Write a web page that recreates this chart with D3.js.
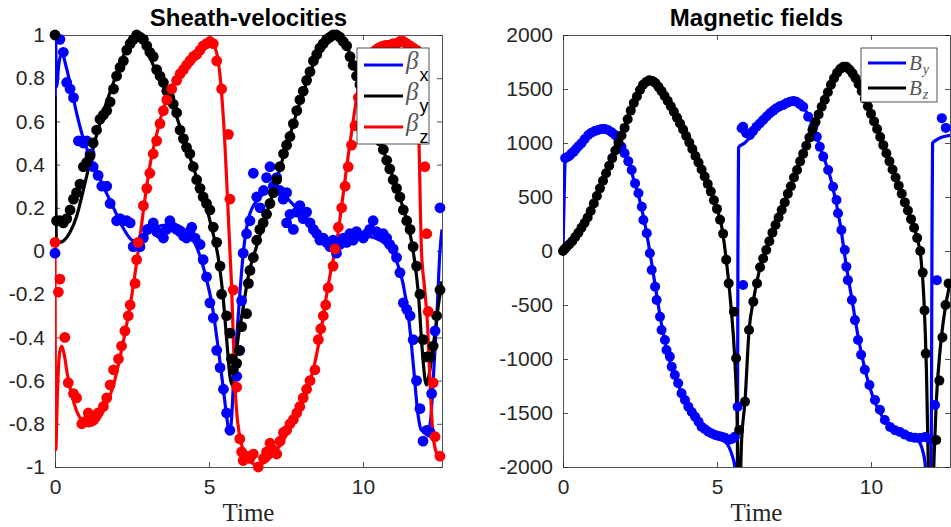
<!DOCTYPE html>
<html><head><meta charset="utf-8">
<script src="https://cdn.jsdelivr.net/npm/d3@7/dist/d3.min.js"></script>
<style>body{margin:0;background:#fff}svg{display:block}</style>
</head><body>
<svg id="chart" width="951" height="527"></svg>
<script>
// ---------------- data ----------------
const tMax = 12.566;
const timeTicks = [0, 5, 10];
const velTicks = [-1, -0.8, -0.6, -0.4, -0.2, 0, 0.2, 0.4, 0.6, 0.8, 1];
const fieldTicks = [-2000, -1500, -1000, -500, 0, 500, 1000, 1500, 2000];

// Sheath velocities: fitted curves [time, value]
const betaXLine = [[0,0],[0.015,1.0],[0.05,0.76],[0.12,0.86],[0.22,0.92],[0.35,0.86],[0.5,0.77],[0.7,0.64],[0.9,0.53],[1.1,0.45],[1.35,0.37],[1.6,0.29],[1.9,0.2],[2.2,0.11],[2.5,0.05],[2.75,0.04],[3.0,0.08],[3.3,0.11],[3.6,0.12],[3.9,0.12],[4.2,0.1],[4.5,0.05],[4.7,-0.02],[4.9,-0.12],[5.1,-0.25],[5.3,-0.45],[5.45,-0.62],[5.57,-0.76],[5.66,-0.84],[5.72,-0.8],[5.8,-0.6],[5.9,-0.4],[6.0,-0.2],[6.12,0.0],[6.3,0.16],[6.6,0.24],[6.9,0.27],[7.3,0.27],[7.7,0.22],[8.0,0.17],[8.4,0.1],[8.8,0.04],[9.2,0.02],[9.6,0.05],[10.0,0.07],[10.4,0.06],[10.8,0.02],[11.1,-0.05],[11.3,-0.15],[11.5,-0.33],[11.65,-0.55],[11.78,-0.75],[11.9,-0.83],[12.05,-0.84],[12.18,-0.8],[12.3,-0.55],[12.4,-0.3],[12.5,0.0],[12.566,0.1]];
const betaYLine = [[0,0.72],[0.04,0.06],[0.15,0.04],[0.3,0.05],[0.5,0.09],[0.7,0.16],[0.9,0.27],[1.1,0.39],[1.3,0.51],[1.5,0.61],[1.7,0.7],[1.9,0.78],[2.1,0.86],[2.3,0.93],[2.5,0.98],[2.7,1.0],[2.9,0.96],[3.1,0.89],[3.4,0.8],[3.7,0.72],[4.0,0.6],[4.3,0.47],[4.6,0.34],[4.9,0.21],[5.1,0.1],[5.3,-0.03],[5.45,-0.2],[5.58,-0.42],[5.68,-0.58],[5.75,-0.62],[5.82,-0.56],[5.95,-0.4],[6.1,-0.27],[6.3,-0.1],[6.5,0.0],[6.8,0.14],[7.1,0.28],[7.4,0.43],[7.7,0.57],[8.0,0.71],[8.3,0.83],[8.6,0.93],[8.9,0.99],[9.1,1.0],[9.3,0.98],[9.5,0.94],[9.8,0.82],[10.1,0.68],[10.4,0.56],[10.7,0.45],[11.0,0.33],[11.3,0.2],[11.5,0.1],[11.65,-0.02],[11.8,-0.2],[11.92,-0.45],[12.02,-0.6],[12.07,-0.62],[12.15,-0.57],[12.3,-0.42],[12.45,-0.25],[12.566,-0.14]];
const betaZLine = [[0,0.02],[0.025,-0.92],[0.08,-0.65],[0.15,-0.47],[0.22,-0.44],[0.3,-0.48],[0.4,-0.57],[0.55,-0.67],[0.7,-0.74],[0.9,-0.79],[1.1,-0.81],[1.3,-0.8],[1.5,-0.76],[1.7,-0.7],[1.9,-0.62],[2.1,-0.5],[2.3,-0.36],[2.5,-0.2],[2.7,0.0],[2.9,0.22],[3.1,0.41],[3.3,0.54],[3.5,0.65],[3.7,0.73],[3.9,0.79],[4.2,0.85],[4.5,0.9],[4.8,0.94],[5.0,0.96],[5.15,0.95],[5.3,0.88],[5.47,0.61],[5.68,0.0],[5.73,-0.15],[5.84,-0.61],[6.0,-0.86],[6.22,-0.95],[6.55,-0.99],[6.8,-0.98],[7.1,-0.94],[7.4,-0.88],[7.7,-0.8],[8.0,-0.71],[8.2,-0.64],[8.4,-0.54],[8.6,-0.4],[8.8,-0.22],[9.0,-0.06],[9.1,0.0],[9.3,0.2],[9.5,0.42],[9.7,0.62],[9.9,0.8],[10.1,0.9],[10.4,0.95],[10.8,0.97],[11.2,0.97],[11.5,0.95],[11.7,0.88],[11.8,0.61],[11.9,0.0],[12.0,-0.17],[12.1,-0.35],[12.18,-0.62],[12.28,-0.86],[12.4,-0.94],[12.566,-0.97]];

// Sheath velocities: measured points [time, value]
const betaXPoints = [[0,-0.01],[0.16,0.98],[0.27,0.92],[0.38,0.78],[0.49,0.75],[0.6,0.71],[0.76,0.51],[0.92,0.5],[1.03,0.51],[1.14,0.45],[1.24,0.39],[1.4,0.35],[1.52,0.3],[1.68,0.3],[1.79,0.22],[2.0,0.14],[2.11,0.15],[2.22,0.14],[2.33,0.14],[2.44,0.13],[2.54,0.02],[2.76,0.02],[2.87,0.06],[3.0,0.1],[3.19,0.13],[3.3,0.09],[3.41,0.08],[3.52,0.06],[3.62,0.1],[3.73,0.14],[3.84,0.11],[3.95,0.1],[4.06,0.09],[4.17,0.07],[4.27,0.06],[4.38,0.09],[4.44,0.11],[4.55,0.06],[4.71,0.03],[4.81,-0.04],[4.92,-0.12],[5.03,-0.24],[5.14,-0.31],[5.25,-0.46],[5.36,-0.54],[5.47,-0.64],[5.57,-0.75],[5.68,-0.83],[5.9,-0.58],[6.0,-0.46],[6.06,-0.23],[6.11,-0.01],[6.22,0.08],[6.33,0.14],[6.44,0.36],[6.55,0.25],[6.66,0.2],[6.77,0.28],[6.87,0.34],[6.98,0.39],[7.09,0.3],[7.2,0.34],[7.3,0.28],[7.41,0.24],[7.52,0.27],[7.52,0.13],[7.63,0.17],[7.74,0.1],[7.85,0.18],[7.95,0.21],[8.06,0.15],[8.17,0.18],[8.28,0.13],[8.39,0.1],[8.5,0.08],[8.6,0.05],[8.71,0.06],[8.82,0.04],[8.93,0.02],[9.03,0.05],[9.14,-0.01],[9.25,0.03],[9.36,0.06],[9.47,0.04],[9.57,0.08],[9.68,0.05],[9.79,0.09],[9.9,0.07],[10.01,0.06],[10.12,0.08],[10.22,0.1],[10.33,0.14],[10.44,0.09],[10.55,0.07],[10.66,0.08],[10.77,0.06],[10.87,0.03],[10.98,0.01],[11.09,-0.03],[11.2,-0.1],[11.31,-0.24],[11.42,-0.27],[11.53,-0.3],[11.63,-0.41],[11.74,-0.6],[11.85,-0.73],[11.95,-0.88],[12.07,-0.83],[12.18,-0.84],[12.23,-0.66],[12.34,-0.37],[12.5,0.2]];
const betaYPoints = [[0,1.0],[0.05,0.14],[0.16,0.14],[0.27,0.13],[0.38,0.15],[0.49,0.19],[0.6,0.24],[0.7,0.27],[0.81,0.31],[0.92,0.39],[1.03,0.41],[1.14,0.44],[1.24,0.5],[1.35,0.56],[1.46,0.61],[1.57,0.63],[1.68,0.65],[1.79,0.69],[1.9,0.75],[2.0,0.81],[2.11,0.85],[2.22,0.88],[2.33,0.93],[2.44,0.96],[2.54,0.98],[2.65,1.0],[2.76,0.99],[2.87,0.98],[2.98,0.95],[3.08,0.92],[3.19,0.9],[3.3,0.84],[3.41,0.81],[3.52,0.78],[3.63,0.74],[3.73,0.71],[3.84,0.68],[3.95,0.64],[4.06,0.56],[4.17,0.52],[4.27,0.48],[4.38,0.45],[4.49,0.39],[4.6,0.33],[4.71,0.29],[4.81,0.25],[4.92,0.22],[5.03,0.19],[5.14,0.11],[5.25,0.04],[5.36,-0.07],[5.41,-0.2],[5.57,-0.3],[5.68,-0.38],[5.73,-0.5],[5.79,-0.55],[5.9,-0.52],[5.98,-0.46],[6.06,-0.35],[6.22,-0.29],[6.28,-0.15],[6.33,-0.09],[6.44,-0.03],[6.55,0.05],[6.65,0.1],[6.76,0.13],[6.87,0.17],[6.98,0.22],[7.09,0.27],[7.2,0.33],[7.3,0.39],[7.42,0.45],[7.52,0.49],[7.63,0.53],[7.74,0.59],[7.85,0.65],[7.95,0.7],[8.06,0.74],[8.17,0.79],[8.28,0.83],[8.39,0.88],[8.5,0.91],[8.6,0.94],[8.71,0.96],[8.82,0.98],[8.93,0.99],[9.03,1.0],[9.14,1.0],[9.25,0.99],[9.36,0.97],[9.47,0.95],[9.58,0.9],[9.68,0.86],[9.79,0.81],[9.9,0.77],[10.0,0.73],[10.1,0.67],[10.22,0.64],[10.33,0.61],[10.44,0.56],[10.55,0.51],[10.66,0.47],[10.77,0.42],[10.87,0.38],[10.98,0.33],[11.09,0.29],[11.2,0.25],[11.31,0.19],[11.42,0.14],[11.53,0.1],[11.63,0.02],[11.74,-0.07],[11.85,-0.2],[11.95,-0.41],[12.07,-0.49],[12.18,-0.49],[12.28,-0.44],[12.39,-0.3],[12.5,-0.18]];
const betaZPoints = [[0,0.04],[0.11,-0.19],[0.16,-0.13],[0.32,-0.4],[0.43,-0.61],[0.6,-0.66],[0.7,-0.68],[0.87,-0.8],[0.97,-0.79],[1.08,-0.75],[1.24,-0.78],[1.4,-0.75],[1.57,-0.72],[1.68,-0.68],[1.79,-0.62],[1.9,-0.55],[2.06,-0.5],[2.16,-0.44],[2.27,-0.37],[2.38,-0.3],[2.44,-0.25],[2.6,-0.15],[2.65,-0.04],[2.7,0.04],[2.87,0.21],[2.98,0.29],[3.08,0.36],[3.19,0.45],[3.3,0.51],[3.41,0.59],[3.52,0.65],[3.63,0.7],[3.79,0.75],[3.95,0.79],[4.06,0.82],[4.17,0.84],[4.27,0.86],[4.38,0.88],[4.49,0.9],[4.6,0.91],[4.71,0.93],[4.81,0.95],[4.92,0.96],[5.03,0.97],[5.14,0.96],[5.25,0.88],[5.41,0.75],[5.63,0.54],[5.68,0.24],[5.79,-0.18],[5.9,-0.63],[6.0,-0.87],[6.06,-0.93],[6.11,-0.97],[6.22,-0.95],[6.33,-0.96],[6.44,-0.94],[6.6,-1.0],[6.77,-0.96],[6.87,-0.93],[6.98,-0.89],[7.09,-0.92],[7.2,-0.94],[7.31,-0.88],[7.42,-0.84],[7.52,-0.83],[7.63,-0.8],[7.74,-0.78],[7.85,-0.75],[7.95,-0.72],[8.06,-0.68],[8.17,-0.64],[8.28,-0.6],[8.44,-0.55],[8.55,-0.41],[8.63,-0.36],[8.71,-0.3],[8.79,-0.25],[8.87,-0.17],[9.03,-0.07],[9.09,0.01],[9.2,0.11],[9.31,0.2],[9.42,0.3],[9.52,0.39],[9.63,0.49],[9.74,0.58],[9.85,0.71],[10.0,0.82],[10.11,0.86],[10.22,0.88],[10.33,0.9],[10.44,0.92],[10.55,0.93],[10.66,0.94],[10.77,0.95],[10.87,0.95],[10.98,0.96],[11.09,0.96],[11.2,0.97],[11.31,0.97],[11.42,0.96],[11.53,0.95],[11.63,0.94],[11.74,0.93],[12.01,0.39],[12.07,0.08],[12.12,-0.28],[12.28,-0.61],[12.34,-0.86],[12.5,-0.95]];

// Magnetic fields: fitted curves
const byLine = [[0,0],[0.03,400],[0.07,820],[0.15,860],[0.3,890],[0.5,950],[0.7,1030],[0.9,1090],[1.1,1125],[1.3,1140],[1.5,1125],[1.7,1065],[1.9,970],[2.1,840],[2.3,660],[2.5,460],[2.7,190],[2.85,-60],[3.0,-330],[3.2,-680],[3.4,-950],[3.6,-1140],[3.8,-1280],[4.0,-1410],[4.3,-1550],[4.6,-1650],[4.9,-1710],[5.2,-1750],[5.4,-1820],[5.5,-1900],[5.58,-2000],[5.62,-2300],[5.66,-2300],[5.68,0],[5.7,960],[5.9,1000],[6.1,1060],[6.4,1150],[6.8,1265],[7.2,1345],[7.5,1375],[7.8,1330],[8.1,1170],[8.4,920],[8.7,660],[9.0,250],[9.2,-140],[9.4,-480],[9.6,-820],[9.8,-1090],[10.1,-1380],[10.4,-1550],[10.8,-1660],[11.2,-1720],[11.5,-1750],[11.65,-1820],[11.75,-1950],[11.85,-2300],[11.95,-2300],[11.98,0],[12.0,1000],[12.2,1040],[12.566,1070]];
const bzLine = [[0,0],[0.3,85],[0.6,210],[0.9,370],[1.2,580],[1.5,790],[1.8,1000],[2.1,1220],[2.4,1430],[2.6,1540],[2.8,1580],[3.0,1555],[3.3,1435],[3.6,1290],[3.9,1125],[4.2,945],[4.5,755],[4.8,550],[5.0,390],[5.15,230],[5.3,-80],[5.45,-500],[5.58,-1010],[5.65,-1500],[5.7,-2200],[5.74,-2200],[5.8,-1750],[5.91,-1390],[6.04,-740],[6.18,-460],[6.4,-150],[6.7,90],[7.0,310],[7.5,680],[8.0,1050],[8.5,1400],[8.8,1600],[9.0,1685],[9.15,1710],[9.3,1680],[9.6,1545],[10.0,1270],[10.5,905],[11.0,530],[11.3,295],[11.5,120],[11.62,-60],[11.72,-450],[11.8,-1100],[11.85,-1800],[11.88,-2300],[12.0,-2300],[12.05,-1900],[12.12,-1400],[12.25,-900],[12.4,-550],[12.566,-300]];

// Magnetic fields: measured points
const byPoints = [[0.07,860],[0.15,870],[0.22,885],[0.28,905],[0.35,920],[0.42,945],[0.5,970],[0.6,997],[0.7,1035],[0.82,1074],[0.92,1095],[1.03,1110],[1.14,1120],[1.25,1130],[1.36,1130],[1.46,1120],[1.58,1100],[1.69,1074],[1.8,1030],[1.9,966],[2.0,905],[2.12,830],[2.23,750],[2.34,626],[2.45,534],[2.56,410],[2.61,287],[2.72,164],[2.82,-21],[2.88,-176],[2.99,-330],[3.04,-454],[3.15,-608],[3.2,-731],[3.31,-824],[3.36,-916],[3.47,-978],[3.53,-1071],[3.63,-1148],[3.74,-1225],[3.85,-1318],[3.96,-1380],[4.07,-1441],[4.18,-1490],[4.29,-1534],[4.4,-1580],[4.5,-1627],[4.61,-1650],[4.72,-1673],[4.83,-1690],[4.94,-1704],[5.05,-1712],[5.15,-1719],[5.26,-1730],[5.37,-1750],[5.48,-1740],[5.58,-1719],[5.67,-1442],[5.85,-315],[5.8,1136],[5.85,1151],[5.95,1090],[6.07,1074],[6.17,1110],[6.28,1151],[6.39,1180],[6.5,1213],[6.61,1245],[6.72,1275],[6.83,1300],[6.93,1321],[7.04,1340],[7.15,1352],[7.26,1370],[7.37,1382],[7.48,1390],[7.58,1382],[7.69,1360],[7.8,1336],[7.96,1244],[8.13,1151],[8.24,1058],[8.34,966],[8.45,874],[8.61,750],[8.77,595],[8.88,472],[8.93,349],[9.04,194],[9.15,9],[9.2,-145],[9.25,-270],[9.38,-454],[9.48,-640],[9.58,-824],[9.68,-960],[9.8,-1100],[9.95,-1240],[10.13,-1380],[10.29,-1470],[10.45,-1565],[10.62,-1630],[10.78,-1660],[10.94,-1676],[11.1,-1700],[11.27,-1722],[11.43,-1730],[11.59,-1731],[11.75,-1722],[11.9,-1740],[12.08,-1426],[12.14,-270],[12.3,1230],[12.43,1140]];
const bzPoints = [[0,0],[0.06,20],[0.12,40],[0.2,60],[0.3,90],[0.4,130],[0.5,170],[0.6,215],[0.7,260],[0.8,310],[0.9,370],[1.0,440],[1.1,510],[1.2,580],[1.3,650],[1.4,720],[1.5,790],[1.6,860],[1.7,930],[1.8,1000],[1.9,1070],[2.0,1140],[2.1,1220],[2.2,1300],[2.3,1370],[2.4,1430],[2.5,1490],[2.6,1540],[2.7,1565],[2.8,1580],[2.9,1575],[3.0,1555],[3.1,1520],[3.2,1480],[3.3,1435],[3.4,1390],[3.5,1340],[3.6,1290],[3.7,1235],[3.8,1180],[3.9,1125],[4.0,1065],[4.1,1005],[4.2,945],[4.3,880],[4.4,820],[4.5,755],[4.6,690],[4.7,620],[4.8,550],[4.9,470],[5.0,390],[5.1,290],[5.2,160],[5.3,-80],[5.38,-300],[5.55,-562],[5.62,-993],[5.72,-1657],[5.91,-1395],[6.04,-731],[6.18,-469],[6.3,-300],[6.4,-150],[6.5,-70],[6.6,10],[6.7,90],[6.8,170],[6.9,240],[7.0,310],[7.1,380],[7.2,450],[7.3,530],[7.4,600],[7.5,680],[7.6,750],[7.7,830],[7.8,900],[7.9,975],[8.0,1050],[8.1,1120],[8.2,1195],[8.3,1265],[8.4,1335],[8.5,1400],[8.6,1470],[8.7,1540],[8.8,1600],[8.9,1650],[9.0,1685],[9.1,1705],[9.2,1705],[9.3,1680],[9.4,1645],[9.5,1600],[9.6,1545],[9.7,1480],[9.8,1410],[9.9,1340],[10.0,1270],[10.1,1200],[10.2,1130],[10.3,1055],[10.4,980],[10.5,905],[10.6,830],[10.7,755],[10.8,680],[10.9,605],[11.0,530],[11.1,450],[11.2,375],[11.3,295],[11.4,215],[11.5,120],[11.6,0],[11.68,-200],[11.74,-550],[11.78,-950],[12.12,-1750],[12.22,-1200],[12.32,-800],[12.42,-500],[12.52,-300]];

// ---------------- drawing ----------------
const svg = d3.select("#chart");
const defs = svg.append("defs");
const FONT = "'Liberation Sans', Arial, Helvetica, sans-serif";
const SERIF = "'Liberation Serif', 'Times New Roman', serif";
const AXC = "#262626";

function panel(cfg, idx) {
  const x = d3.scaleLinear().domain([0, tMax]).range([cfg.left, cfg.right]);
  const y = d3.scaleLinear().domain(cfg.yDomain).range([cfg.bottom, cfg.top]);
  const g = svg.append("g");
  const clipId = "clip" + idx;
  defs.append("clipPath").attr("id", clipId).append("rect")
    .attr("x", cfg.left).attr("y", cfg.top)
    .attr("width", cfg.right - cfg.left).attr("height", cfg.bottom - cfg.top);

  const styleAxis = sel => {
    sel.attr("font-family", FONT).attr("font-size", 21);
    sel.selectAll("path.domain").attr("stroke", AXC).attr("stroke-width", 0.8);
    sel.selectAll(".tick line").attr("stroke", AXC).attr("stroke-width", 0.8);
    sel.selectAll(".tick text").attr("fill", AXC);
  };
  g.append("g").attr("transform", `translate(0,${cfg.bottom})`)
    .call(d3.axisBottom(x).tickValues(timeTicks).tickSize(-5).tickSizeOuter(0).tickPadding(12).tickFormat(d3.format("d")))
    .call(styleAxis);
  g.append("g").attr("transform", `translate(0,${cfg.top})`)
    .call(d3.axisTop(x).tickValues(timeTicks).tickSize(-5).tickSizeOuter(0).tickFormat(""))
    .call(styleAxis);
  g.append("g").attr("transform", `translate(${cfg.left},0)`)
    .call(d3.axisLeft(y).tickValues(cfg.yTicks).tickSize(-5).tickSizeOuter(0).tickPadding(10).tickFormat(d => String(d)))
    .call(styleAxis);
  g.append("g").attr("transform", `translate(${cfg.right},0)`)
    .call(d3.axisRight(y).tickValues(cfg.yTicks).tickSize(-5).tickSizeOuter(0).tickFormat(""))
    .call(styleAxis);

  g.append("text").attr("x", (cfg.left + cfg.right) / 2).attr("y", 26)
    .attr("text-anchor", "middle").attr("font-family", FONT).attr("font-weight", "bold")
    .attr("font-size", 24).attr("fill", "#000").text(cfg.title);
  g.append("text").attr("x", (cfg.left + cfg.right) / 2).attr("y", 521)
    .attr("text-anchor", "middle").attr("font-family", SERIF)
    .attr("font-size", 25).attr("fill", AXC).text("Time");

  const line = d3.line().x(d => x(d[0])).y(d => y(d[1])).curve(d3.curveMonotoneX);
  cfg.series.forEach(s => {
    g.append("path").datum(s.line).attr("d", line).attr("fill", "none")
      .attr("stroke", s.color).attr("stroke-width", 3.2).attr("stroke-linejoin", "round")
      .attr("clip-path", `url(#${clipId})`);
  });
  cfg.series.forEach(s => {
    g.append("g").selectAll("circle").data(s.points).join("circle")
      .attr("cx", d => x(d[0])).attr("cy", d => y(d[1])).attr("r", cfg.r).attr("fill", s.color);
  });

  const L = cfg.legend;
  const lg = g.append("g");
  lg.append("rect").attr("x", L.x).attr("y", L.y).attr("width", L.w).attr("height", L.h)
    .attr("fill", "#fff").attr("stroke", AXC).attr("stroke-width", 0.8);
  cfg.series.forEach((s, i) => {
    const yy = L.y + L.first + i * L.step;
    lg.append("line").attr("x1", L.x + 7).attr("x2", L.x + 7 + L.len).attr("y1", yy).attr("y2", yy)
      .attr("stroke", s.color).attr("stroke-width", 3.2);
    const t = lg.append("text").attr("x", L.x + 10 + L.len).attr("y", yy + L.base)
      .attr("font-family", SERIF).attr("font-style", "italic").attr("font-size", L.fs).attr("fill", "#555");
    t.append("tspan").text(s.sym);
    t.append("tspan").attr("dy", L.subDy).attr("dx", 1)
      .attr("font-family", L.subSerif ? SERIF : FONT).attr("font-style", L.subSerif ? "italic" : "normal")
      .attr("fill", L.subSerif ? "#555" : "#000")
      .attr("font-size", L.subFs).text(s.sub);
  });
}

panel({
  left: 55, right: 442, top: 35, bottom: 467,
  yDomain: [-1, 1], yTicks: velTicks, title: "Sheath-velocities", r: 5.4,
  series: [
    {color: "#0000ff", line: betaXLine, points: betaXPoints, sym: "\u03b2", sub: "x"},
    {color: "#000000", line: betaYLine, points: betaYPoints, sym: "\u03b2", sub: "y"},
    {color: "#ff0000", line: betaZLine, points: betaZPoints, sym: "\u03b2", sub: "z"}
  ],
  legend: {x: 357, y: 48, w: 72, h: 96, first: 17, step: 31, len: 39, base: 4, fs: 25, subDy: 12, subFs: 18, subSerif: false}
}, 0);

panel({
  left: 563, right: 950, top: 35, bottom: 467,
  yDomain: [-2000, 2000], yTicks: fieldTicks, title: "Magnetic fields", r: 5,
  series: [
    {color: "#0000ff", line: byLine, points: byPoints, sym: "B", sub: "y"},
    {color: "#000000", line: bzLine, points: bzPoints, sym: "B", sub: "z"}
  ],
  legend: {x: 861, y: 48, w: 76, h: 54, first: 15, step: 25, len: 38, base: 7, fs: 21, subDy: 4, subFs: 14, subSerif: true}
}, 1);
</script>
</body></html>
